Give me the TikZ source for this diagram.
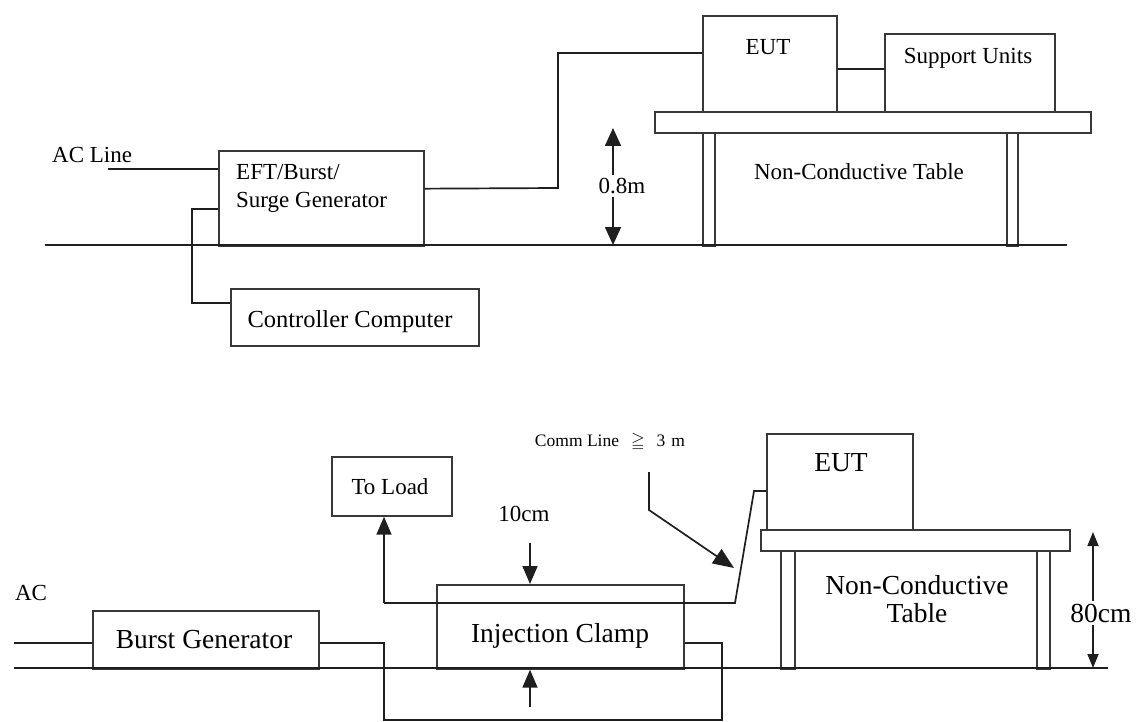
\documentclass[tikz,border=0pt]{standalone}
\usepackage{amssymb}
\usepackage{fontspec}
\setmainfont{Liberation Serif}
\usetikzlibrary{arrows.meta,calc}
\begin{document}
\begin{tikzpicture}[x=1pt,y=-1pt,
  wire/.style={line width=1.7pt, draw=black!88},
  box/.style={draw=black!78, line width=1.7pt, anchor=north west, inner sep=0pt},
  bigtip/.style={-{Triangle[width=15pt,length=18pt]}},
  bothtip/.style={{Triangle[width=16pt,length=18pt]}-{Triangle[width=16pt,length=18pt]}},
  smalltips/.style={{Triangle[width=11pt,length=14pt]}-{Triangle[width=11pt,length=14pt]}},
  ft/.style={font=\fontsize{23}{28}\selectfont, inner sep=0pt},
  fb/.style={font=\fontsize{27.5}{28}\selectfont, inner sep=0pt},
  fs/.style={font=\fontsize{17.5}{18}\selectfont, inner sep=0pt},
  lbl/.style={fill=white, inner xsep=1pt, inner ysep=3pt}
]
\useasboundingbox[fill=white] (0,0) rectangle (1145,722);

% ================= TOP =================
\node[ft, anchor=west] (actxt) at (52,155) {AC Line};
\coordinate (acin) at (108,169);
\node[box, minimum width=205pt, minimum height=95pt] (eft) at (218,150) {};
\node[ft, anchor=north west, align=left] (efttxt) at (236,164) {EFT/Burst/\\Surge Generator};
\node[box, minimum width=248pt, minimum height=57pt] (ctrl) at (230,288) {};
\node[ft, font=\fontsize{24.5}{28}\selectfont] (ctrltxt) at (350,322) {Controller Computer};
\node[box, minimum width=134pt, minimum height=96pt] (eut) at (702,15) {};
\node[ft] (euttxt) at (768,47) {EUT};
\node[box, minimum width=170pt, minimum height=78pt] (sup) at (884,33) {};
\node[ft] (suptxt) at (968,58) {Support Units};
\node[box, minimum width=436pt, minimum height=21pt] (ttop) at (654,111) {};
\node[box, minimum width=12pt, minimum height=113pt] (leg1) at (702,132) {};
\node[box, minimum width=11pt, minimum height=113pt] (leg2) at (1006,132) {};
\node[ft] (ttxt) at (859,172) {Non-Conductive Table};

\coordinate (g1a) at (45,245);
\coordinate (g1b) at (1067,245);
\draw[wire] (g1a) -- (g1b);

\draw[wire] (acin) -- (eft.west |- acin);
\coordinate (eftc) at ($(eft.north west)!0.61!(eft.south west)$);
\draw[wire] (eftc) -- ++(-26,0) |- ($(ctrl.north west)+(0,15)$);
\coordinate (eftr) at ($(eft.north east)!0.4!(eft.south east)$);
\coordinate (eutl) at ($(eut.north west)+(0,38)$);
\draw[wire] (eftr) -- (558,188) |- (eutl);
\coordinate (eutr) at ($(eut.north east)+(0,54)$);
\draw[wire] (eutr) -- (sup.west |- eutr);

\coordinate (d1t) at (613,128);
\coordinate (d1b) at (613,245);
\draw[wire, bothtip] (d1t) -- (d1b);
\node[ft, lbl] (d1l) at (622,186) {0.8m};

% ================= BOTTOM =================
\node[ft] (actxt2) at (31,593) {AC};
\coordinate (acin2) at (14,643);
\node[box, minimum width=226pt, minimum height=58pt] (bg) at (92,610) {};
\node[fb] (bgtxt) at (204,640) {Burst Generator};
\node[box, minimum width=247pt, minimum height=84pt] (clamp) at (436,584) {};
\node[fb] (cltxt) at (560,636) {Injection Clamp};
\node[box, minimum width=120pt, minimum height=59pt] (load) at (331,456) {};
\node[ft] (loadtxt) at (390,487) {To Load};
\node[box, minimum width=146pt, minimum height=96pt] (eut2) at (766,433) {};
\node[fb] (eut2txt) at (841,463) {EUT};
\node[box, minimum width=309pt, minimum height=21pt] (ttop2) at (760,529) {};
\node[box, minimum width=14pt, minimum height=118pt] (leg3) at (780,550) {};
\node[box, minimum width=13pt, minimum height=118pt] (leg4) at (1036,550) {};
\node[fb, align=center] (t2txt) at (917,599) {Non-Conductive\\Table};

\coordinate (g2a) at (14,668);
\coordinate (g2b) at (1108,668);
\draw[wire] (g2a) -- (g2b);

\draw[wire] (acin2) -- (bg.west |- acin2);
\coordinate (bgr) at ($(bg.north east)+(0,33)$);
\coordinate (clr) at ($(clamp.north east)+(0,59)$);
\draw[wire] (bgr) -- (384,643) |- (722,720) |- (clr);

\coordinate (cab0) at (384,603);
\draw[wire, bigtip] (cab0) -- (cab0 |- load.south);
\coordinate (eut2l) at ($(eut2.north west)+(0,58)$);
\draw[wire] (cab0) -- (735,603) -- (754,491) -- (eut2l);

\node[ft] (c10txt) at (524,514) {10cm};
\coordinate (c10) at (530,543);
\draw[wire, bigtip] (c10) -- (c10 |- clamp.north);
\coordinate (c10b) at (530,707);
\draw[wire, bigtip] (c10b) -- (c10b |- clamp.south);

\node[fs] (commtxt) at (610,442) {Comm Line\hspace{12pt}$\geqq$\hspace{12pt}3\hspace{6pt}m};
\coordinate (cm1) at (649,472);
\coordinate (cm2) at (734,568);
\draw[wire, {-Triangle[width=17pt,length=21pt]}] (cm1) -- (649,510) -- (cm2);

\coordinate (d2t) at (1093,532);
\coordinate (d2b) at (1093,668);
\draw[wire, smalltips] (d2t) -- (d2b);
\node[fb, lbl] (d2l) at (1101,613) {80cm};
\end{tikzpicture}
\end{document}
